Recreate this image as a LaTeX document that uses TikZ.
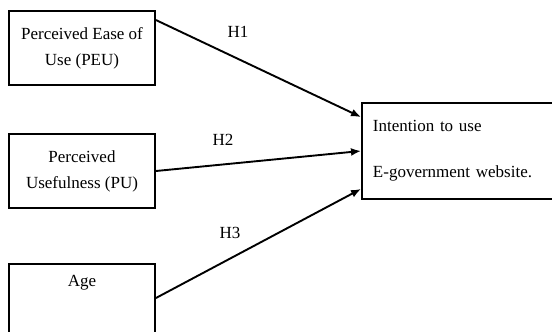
\documentclass[tikz,border=0pt]{standalone}
\usepackage{fontspec}
\setmainfont{Liberation Serif}
\usetikzlibrary{arrows.meta}

\begin{document}
\begin{tikzpicture}[x=1pt, y=-1pt,
    factor/.style={draw, line width=1.9pt, minimum width=146pt, minimum height=74pt,
        align=center, font=\fontsize{17}{26}\selectfont},
    outcome/.style={draw, line width=1.9pt, minimum height=96pt, text width=169pt,
        inner xsep=11pt, align=left, font=\fontsize{17}{20}\selectfont},
    hyp/.style={font=\fontsize{17}{20}\selectfont},
    link/.style={line width=1.9pt, -{Latex[length=10pt, width=8pt]}}]
    \useasboundingbox (0,0) rectangle (552,332);

    \node[factor] (peu) at (82,48) {Perceived Ease of\\Use (PEU)};
    \node[factor] (pu) at (82,171) {Perceived\\Usefulness (PU)};
    \node[factor, minimum height=80pt, anchor=north] (age) at (82,263) {};
    \node[hyp] (agetext) at (82,283) {Age};

    \node[outcome, anchor=west] (intent) at (361,151) {Intention to use\\[26pt]E-government website.};

    \draw[link] ([yshift=-10pt]peu.north east) -- ([yshift=-15pt]intent.north west);
    \draw[link] (pu.east) -- (intent.west);
    \draw[link] ([yshift=-35pt]age.north east) -- ([yshift=11pt]intent.south west);

    \node[hyp] (h1) at (238,32) {H1};
    \node[hyp] (h2) at (223,140) {H2};
    \node[hyp] (h3) at (230,233) {H3};
\end{tikzpicture}
\end{document}
